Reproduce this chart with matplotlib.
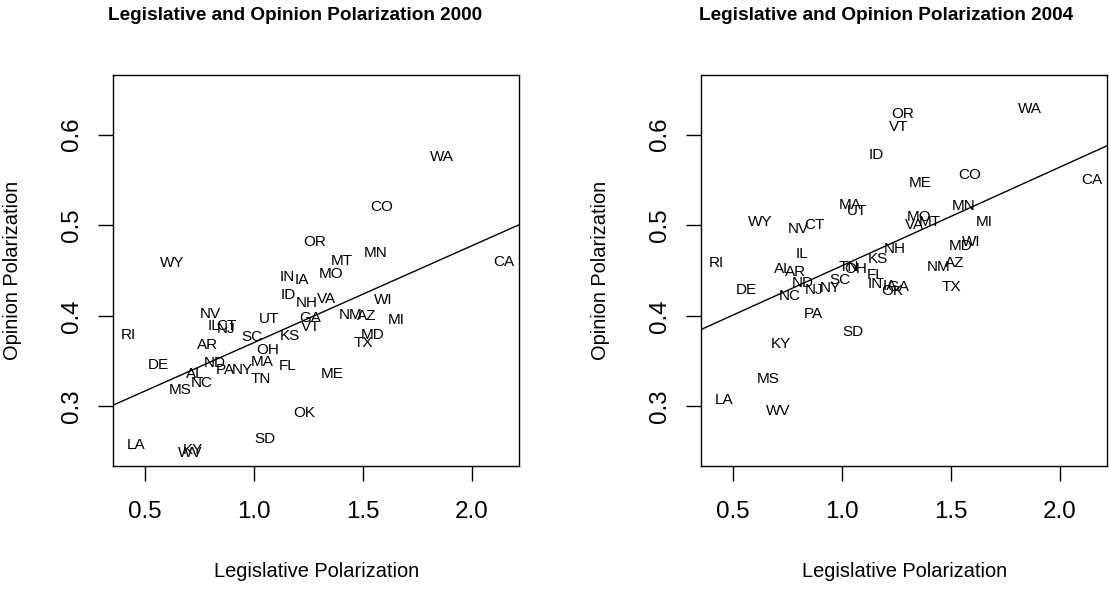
import matplotlib
matplotlib.use('Agg')
import matplotlib.pyplot as plt
import numpy as np

plt.rcParams['font.family'] = ['Liberation Sans', 'DejaVu Sans']

states = ['AL', 'AR', 'AZ', 'CA', 'CO', 'CT', 'DE', 'FL', 'GA', 'IA', 'ID', 'IL',
          'IN', 'KS', 'KY', 'LA', 'MA', 'MD', 'ME', 'MI', 'MN', 'MO', 'MS', 'MT',
          'NC', 'ND', 'NH', 'NJ', 'NM', 'NV', 'NY', 'OH', 'OK', 'OR', 'PA', 'RI',
          'SC', 'SD', 'TN', 'TX', 'UT', 'VA', 'VT', 'WA', 'WI', 'WV', 'WY']

# legislative polarization (same for both years)
legis = [0.733, 0.790, 1.520, 2.150, 1.587, 0.873, 0.561, 1.155, 1.260, 1.223, 1.160, 0.819,
         1.156, 1.165, 0.722, 0.462, 1.041, 1.547, 1.359, 1.655, 1.562, 1.353, 0.662, 1.406,
         0.763, 0.823, 1.244, 0.873, 1.447, 0.800, 0.950, 1.064, 1.232, 1.278, 0.869, 0.425,
         0.990, 1.054, 1.035, 1.505, 1.070, 1.334, 1.262, 1.864, 1.596, 0.708, 0.624]

opinion_2000 = [0.336, 0.3675, 0.3996, 0.459, 0.520, 0.389, 0.346, 0.344, 0.3978, 0.4395, 0.4229, 0.3886,
                0.443, 0.3775, 0.252, 0.2568, 0.349, 0.3786, 0.3354, 0.3952, 0.469, 0.4458, 0.3177, 0.460,
                0.3262, 0.348, 0.4144, 0.385, 0.4007, 0.4018, 0.3406, 0.362, 0.293, 0.4812, 0.3406, 0.3786,
                0.3767, 0.2642, 0.3299, 0.3694, 0.396, 0.418, 0.3878, 0.5753, 0.4174, 0.2483, 0.458]

opinion_2004 = [0.4513, 0.4487, 0.4587, 0.5499, 0.5554, 0.500, 0.4284, 0.445, 0.4321, 0.4329, 0.5772, 0.4683,
                0.4347, 0.4628, 0.3686, 0.3066, 0.5226, 0.4772, 0.5466, 0.5034, 0.5214, 0.509, 0.3306, 0.5034,
                0.4218, 0.4365, 0.4735, 0.4284, 0.4535, 0.4956, 0.4303, 0.4517, 0.4277, 0.6233, 0.4018, 0.458,
                0.4395, 0.3823, 0.4543, 0.4321, 0.5152, 0.5004, 0.6086, 0.6285, 0.482, 0.2944, 0.5041]

# fitted lines (intercept, slope)
fit_2000 = (0.2632, 0.1070)
fit_2004 = (0.3461, 0.1090)

years = ['2000', '2004']
ylim_base = (0.25, 0.65)

W, H = 1110, 592
fig = plt.figure(figsize=(W / 100, H / 100), dpi=100)

panels = [
    (113.3, opinion_2000, fit_2000, 295.3),
    (701.3, opinion_2004, fit_2004, 886.3),
]

x = np.array(legis)
xpad = 0.04 * (x.max() - x.min())
ypad = 0.04 * (ylim_base[1] - ylim_base[0])

for (left_px, op, fit, title_x), year in zip(panels, years):
    ax = fig.add_axes([left_px / W, 1 - 466 / H, 406 / W, 391 / H])
    ax.set_xlim(x.min() - xpad, x.max() + xpad)
    ax.set_ylim(ylim_base[0] - ypad, ylim_base[1] + ypad)
    for s, xi, yi in zip(states, legis, op):
        ax.text(xi, yi, s, ha='center', va='center', fontsize=11)
    ax.axline((0, fit[0]), slope=fit[1], color='black', lw=1.0)

    ax.set_xticks([0.5, 1.0, 1.5, 2.0])
    ax.set_xticklabels(['0.5', '1.0', '1.5', '2.0'])
    ax.set_yticks([0.3, 0.4, 0.5, 0.6])
    ax.set_yticklabels(['0.3', '0.4', '0.5', '0.6'], rotation=90, va='center')
    ax.tick_params(direction='out', length=10.5, width=1.0, labelsize=17.4)
    ax.tick_params(axis='x', pad=15)
    ax.tick_params(axis='y', pad=11)
    for sp in ax.spines.values():
        sp.set_linewidth(1.0)

    ax.set_xlabel('Legislative Polarization', fontsize=14.4, va='center')
    ax.xaxis.set_label_coords(0.5, -105.7 / 391)
    ax.set_ylabel('Opinion Polarization', fontsize=14.4, va='center', ha='center')
    ax.yaxis.set_label_coords(-100.8 / 406, 0.5)

    fig.text(title_x / W, 1 - 15 / H, 'Legislative and Opinion Polarization ' + year,
             ha='center', va='center', fontsize=13.7, fontweight='bold')

fig.savefig('out.png', dpi=100)
